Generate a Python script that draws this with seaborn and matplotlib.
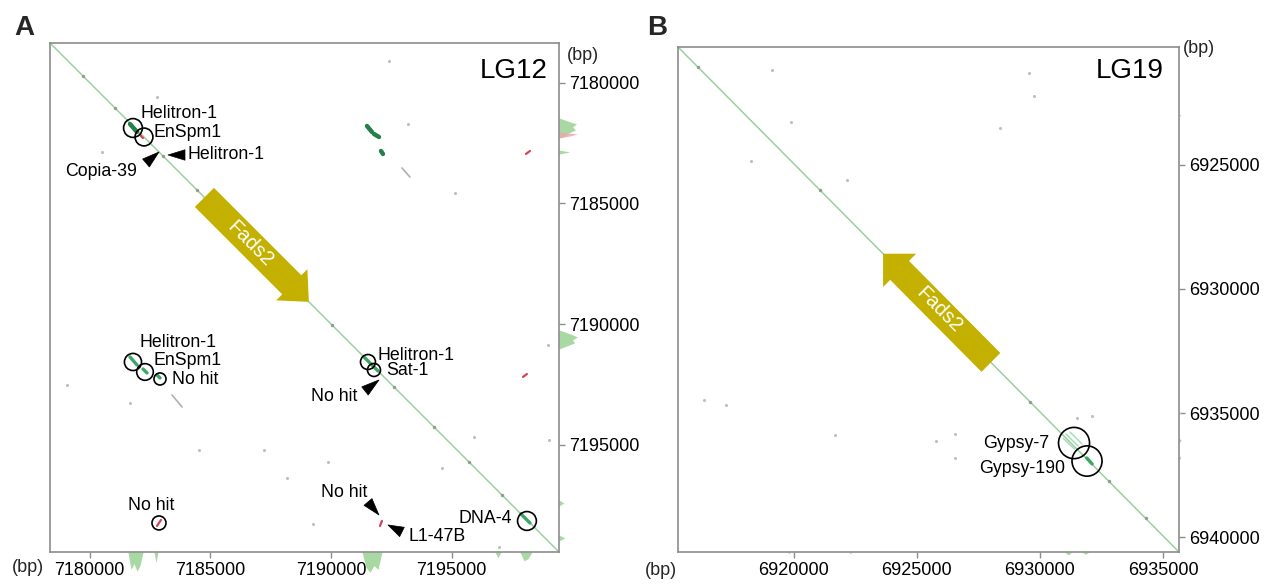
import matplotlib
matplotlib.use("Agg")
import matplotlib.pyplot as plt
import matplotlib.transforms as mtrans
from matplotlib.patches import Circle
import pandas as pd
import seaborn as sns

# ======================= DATA =======================
# ---------- Panel A : LG12 self dot plot (bp) ----------
lg12_lim = [7178350, 7199450]
lg12_ticks = [7180000, 7185000, 7190000, 7195000]
lg12_fads2 = [7184750, 7189080]            # Fads2, forward strand (start -> end)

lg12_circ_x = [7181790, 7182246, 7181790, 7182288, 7182910, 7182868, 7191531, 7191780, 7198122]
lg12_circ_y = [7181873, 7182246, 7191573, 7191987, 7192277, 7198246, 7191573, 7191904, 7198163]
lg12_circ_r = [390, 370, 355, 345, 250, 290, 310, 270, 390]

lg12_lab_text = ["Helitron-1", "EnSpm1", "Copia-39", "Helitron-1", "Helitron-1", "EnSpm1",
                 "No hit", "Helitron-1", "Sat-1", "No hit", "No hit", "No hit", "L1-47B", "DNA-4"]
lg12_lab_x = [7182122, 7182620, 7181956, 7184070, 7182040, 7182661,
              7183407, 7191946, 7192277, 7191075, 7182536, 7190537, 7193230, 7197500]
lg12_lab_y = [7181252, 7182080, 7183697, 7182992, 7190785, 7191530,
              7192318, 7191323, 7191946, 7193023, 7197540, 7197000, 7198826, 7198080]
lg12_lab_ha = ["left", "left", "right", "left", "left", "left",
               "left", "left", "left", "right", "center", "center", "left", "right"]

# black arrow-heads: tip and base (bp)
lg12_tip_x = [7182868, 7183241, 7191987, 7191987, 7192360]
lg12_tip_y = [7182868, 7182992, 7192318, 7197915, 7198329]
lg12_base_x = [7182329, 7183946, 7191407, 7191531, 7192940]
lg12_base_y = [7183324, 7182992, 7192774, 7197376, 7198619]

# hit segments: x0, y0, x1, y1, kind
lg12_seg_x0 = [7181666, 7182080, 7191490, 7191780, 7192070, 7192940, 7198080, 7181666, 7182205,
               7182785, 7183407, 7191365, 7197873, 7197956, 7192028, 7182785]
lg12_seg_y0 = [7181707, 7182163, 7181790, 7182122, 7182827, 7183531, 7182950, 7191365, 7191863,
               7192111, 7192940, 7191365, 7197873, 7192194, 7198370, 7198370]
lg12_seg_x1 = [7181956, 7182205, 7191697, 7191987, 7192153, 7193270, 7198246, 7181956, 7182371,
               7182910, 7183822, 7191946, 7198246, 7198122, 7192111, 7182951]
lg12_seg_y1 = [7182039, 7182288, 7182039, 7182246, 7182950, 7183904, 7182826, 7191697, 7192028,
               7192236, 7193437, 7191946, 7198246, 7192070, 7198163, 7198122]
lg12_seg_kind = ["dark", "red", "dark", "dark", "dark", "grey", "red", "mid", "mid",
                 "mid", "grey", "mid", "mid", "red", "red", "red"]

lg12_dot_x = [7192402, 7193189, 7182785, 7180505, 7179055, 7181666, 7184526, 7187220, 7188174,
              7189251, 7198992, 7199033, 7195925, 7189873, 7194598, 7196961, 7195137]
lg12_dot_y = [7179096, 7181707, 7180588, 7182868, 7192526, 7193272, 7195220, 7195220, 7196381,
              7198297, 7190868, 7194806, 7194681, 7195717, 7195966, 7199241, 7184568]
lg12_diag_dots = [7179700, 7181050, 7183050, 7184450, 7190050, 7192600, 7194250, 7195700, 7197100]

# marginal coverage profiles (relative)
lg12_right_pos = [7181459, 7181625, 7181708, 7181832, 7181956, 7182080, 7182205, 7182288,
                  7182785, 7182868, 7182950, 7190247, 7190413, 7190537, 7190661, 7190785,
                  7190910, 7191034, 7197293, 7197418, 7197543, 7198744, 7198868, 7198993]
lg12_right_val = [0, 0.6, 0.9, 0.7, 0.85, 0.5, 0.3, 0,
                  0, 0.55, 0, 0, 0.6, 0.95, 0.7, 0.8,
                  0.4, 0, 0, 0.25, 0, 0, 0.3, 0]
lg12_right_pink_pos = [7182040, 7182120, 7182200, 7182290]
lg12_right_pink_val = [0, 0.95, 0.6, 0]
lg12_bottom_pos = [7181583, 7181707, 7181832, 7181956, 7182081, 7182205, 7182661, 7182744,
                   7182827, 7191282, 7191448, 7191614, 7191780, 7191946, 7192111, 7196795,
                   7196920, 7197044, 7197832, 7197998, 7198163, 7198329]
lg12_bottom_val = [0, 0.9, 0.6, 1.0, 0.7, 0, 0, 0.55,
                   0, 0, 0.8, 1.05, 0.7, 0.9, 0, 0,
                   0.3, 0, 0, 0.45, 0.35, 0]

# ---------- Panel B : LG19 dot plot (bp) ----------
lg19_xlim = [6915300, 6935650]
lg19_ylim = [6920250, 6940600]
lg19_xticks = [6920000, 6925000, 6930000, 6935000]
lg19_yticks = [6925000, 6930000, 6935000, 6940000]
lg19_fads2_x = [6928010, 6923630]          # Fads2, reverse strand (start -> end)
lg19_fads2_y = [6932960, 6928580]

lg19_circ_x = [6931386, 6931914]
lg19_circ_y = [6936209, 6936934]
lg19_circ_r = [630, 610]
lg19_lab_text = ["Gypsy-7", "Gypsy-190"]
lg19_lab_x = [6930370, 6931020]
lg19_lab_y = [6936209, 6937216]

lg19_seg_x0 = [6931061, 6931223, 6930950, 6931900]
lg19_seg_y0 = [6935846, 6935765, 6936020, 6936810]
lg19_seg_x1 = [6931548, 6931710, 6931400, 6932120]
lg19_seg_y1 = [6936330, 6936249, 6936450, 6937050]
lg19_seg_kind = ["light", "light", "light", "mid"]

lg19_dot_x = [6919118, 6919890, 6918265, 6922165, 6929558, 6929761, 6928380, 6916356,
              6917250, 6921677, 6925780, 6926552, 6926552, 6931507, 6932117]
lg19_dot_y = [6921177, 6923273, 6924845, 6925610, 6921298, 6922225, 6923514, 6934476,
              6934677, 6935886, 6936128, 6935846, 6936813, 6935201, 6935121]
lg19_diag_dots = [6916100, 6921070, 6924000, 6929600, 6932800, 6934300]

lg19_bottom_pos = [6919750, 6919800, 6919850, 6922250, 6922300, 6922350,
                   6931000, 6931150, 6931300, 6931700, 6931850, 6932000]
lg19_bottom_val = [0, 0.1, 0, 0, 0.1, 0, 0, 0.15, 0, 0, 0.12, 0]
lg19_right_pos = [6922950, 6923000, 6923050, 6934950, 6935000, 6935050,
                  6936000, 6936100, 6936200, 6936700, 6936800, 6936900]
lg19_right_val = [0, 0.1, 0, 0, 0.12, 0, 0, 0.12, 0, 0, 0.1, 0]

# ======================= STYLE =======================
sns.set_theme(style="white")
plt.rcParams['font.family'] = ['Liberation Sans', 'DejaVu Sans']

SPINE = "#8c8c8c"
DIAG = "#9ccf9c"
ARROW = "#c3b000"
PROF_G = "#a9d9a2"
PROF_P = "#eaa6ae"
seg_color = {"dark": "#23804a", "mid": "#3fa565", "light": "#9edcb6",
             "red": "#d2445a", "grey": "#a9b4ac"}
seg_width = {"dark": 3.2, "mid": 2.4, "light": 1.0, "red": 1.6, "grey": 1.2}

fig = plt.figure(figsize=(12.7, 5.84), dpi=100)
axA = fig.add_axes([50 / 1270, 32 / 584, 509 / 1270, 509 / 584])
axB = fig.add_axes([678 / 1270, 32 / 584, 501 / 1270, 505 / 584])


def base_axes(ax, xlim, ylim, xticks, yticks):
    ax.set_xlim(xlim[0], xlim[1])
    ax.set_ylim(ylim[1], ylim[0])
    ax.set_xticks(xticks)
    ax.set_yticks(yticks)
    ax.set_xticklabels([str(t) for t in xticks])
    ax.set_yticklabels([str(t) for t in yticks])
    ax.yaxis.tick_right()
    ax.xaxis.tick_bottom()
    ax.tick_params(axis="both", direction="out", length=4, width=1, color=SPINE,
                   labelsize=13, pad=3, labelcolor="black")
    for s in ax.spines.values():
        s.set_color(SPINE)
        s.set_linewidth(1.2)
    ax.set_xlabel("")
    ax.set_ylabel("")


def draw_panel(ax, diag_x, diag_y, dots_x, dots_y, diag_dots, diag_offset,
               sx0, sy0, sx1, sy1, skind, circ_x, circ_y, circ_r):
    sns.lineplot(x=diag_x, y=diag_y, ax=ax, color=DIAG, lw=1.1, zorder=2)
    for x0, y0, x1, y1, k in zip(sx0, sy0, sx1, sy1, skind):
        ax.plot([x0, x1], [y0, y1], color=seg_color[k], lw=seg_width[k],
                solid_capstyle="round", zorder=3)
    sns.scatterplot(x=dots_x, y=dots_y, ax=ax, color="#b8c4bc", s=5,
                    linewidth=0, zorder=3, legend=False)
    sns.scatterplot(x=diag_dots, y=[d + diag_offset for d in diag_dots], ax=ax,
                    color="#8e9a92", s=6, linewidth=0, zorder=3, legend=False)
    for cx, cy, r in zip(circ_x, circ_y, circ_r):
        ax.add_patch(Circle((cx, cy), r, fill=False, ec="black", lw=1.2, zorder=5))


def gene_arrow(ax, xs, ys, width, head_w, head_l):
    dx = xs[1] - xs[0]
    dy = ys[1] - ys[0]
    ax.arrow(xs[0], ys[0], dx, dy, width=width, head_width=head_w, head_length=head_l,
             length_includes_head=True, fc=ARROW, ec=ARROW, lw=0, zorder=4)


def profiles(ax, rpos, rval, bpos, bval, color, scale):
    tr_r = mtrans.blended_transform_factory(ax.transAxes, ax.transData)
    tr_b = mtrans.blended_transform_factory(ax.transData, ax.transAxes)
    ax.fill_betweenx(rpos, 1.0, [1.0 + v * scale for v in rval], transform=tr_r,
                     color=color, lw=0, clip_on=False, zorder=1)
    ax.fill_between(bpos, 0.0, [-v * scale for v in bval], transform=tr_b,
                    color=color, lw=0, clip_on=False, zorder=1)


# ---------------- Panel A ----------------
draw_panel(axA, lg12_lim, lg12_lim, lg12_dot_x, lg12_dot_y, lg12_diag_dots, 0,
           lg12_seg_x0, lg12_seg_y0, lg12_seg_x1, lg12_seg_y1, lg12_seg_kind,
           lg12_circ_x, lg12_circ_y, lg12_circ_r)
gene_arrow(axA, lg12_fads2, lg12_fads2, 1120, 1830, 1000)
headA = 1000 / (2 ** 0.5)
midA = (lg12_fads2[0] + lg12_fads2[1] - headA) / 2 + 100
axA.text(midA, midA, "Fads2", color="white", fontsize=14.5, rotation=-45,
         rotation_mode="anchor", ha="center", va="center", zorder=6)
for t, x, y, ha in zip(lg12_lab_text, lg12_lab_x, lg12_lab_y, lg12_lab_ha):
    axA.text(x, y, t, fontsize=12.8, ha=ha, va="center", color="black", zorder=6)
for tx, ty, bx, by in zip(lg12_tip_x, lg12_tip_y, lg12_base_x, lg12_base_y):
    axA.annotate("", xy=(tx, ty), xytext=(bx, by),
                 arrowprops=dict(arrowstyle="wedge,tail_width=0.75,shrink_factor=0.5",
                                 fc="black", ec="black", lw=0.5, shrinkA=0, shrinkB=0,
                                 mutation_scale=10), zorder=6)
base_axes(axA, lg12_lim, lg12_lim, lg12_ticks, lg12_ticks)
profiles(axA, lg12_right_pos, lg12_right_val, lg12_bottom_pos, lg12_bottom_val, PROF_G, 0.038)
axA.fill_betweenx(lg12_right_pink_pos, 1.0, [1.0 + v * 0.038 for v in lg12_right_pink_val],
                  transform=mtrans.blended_transform_factory(axA.transAxes, axA.transData),
                  color=PROF_P, lw=0, clip_on=False, zorder=1, alpha=0.8)
axA.text(0.978, 0.931, "LG12", transform=axA.transAxes, fontsize=20, ha="right",
         va="baseline", color="black")
axA.text(-0.075, -0.03, "(bp)", transform=axA.transAxes, fontsize=13, ha="left", va="center")
axA.text(1.016, 0.976, "(bp)", transform=axA.transAxes, fontsize=13, ha="left", va="center")
axA.set_xlim(lg12_lim[0], lg12_lim[1])
axA.set_ylim(lg12_lim[1], lg12_lim[0])

# ---------------- Panel B ----------------
lg19_offset = lg19_ylim[0] - lg19_xlim[0]
draw_panel(axB, lg19_xlim, lg19_ylim, lg19_dot_x, lg19_dot_y, lg19_diag_dots, lg19_offset,
           lg19_seg_x0, lg19_seg_y0, lg19_seg_x1, lg19_seg_y1, lg19_seg_kind,
           lg19_circ_x, lg19_circ_y, lg19_circ_r)
gene_arrow(axB, lg19_fads2_x, lg19_fads2_y, 1080, 1900, 950)
headB = 950 / (2 ** 0.5)
midBx = (lg19_fads2_x[0] + lg19_fads2_x[1] + headB) / 2 - 250
midBy = midBx + lg19_offset
axB.text(midBx, midBy, "Fads2", color="white", fontsize=14.5, rotation=-45,
         rotation_mode="anchor", ha="center", va="center", zorder=6)
for t, x, y in zip(lg19_lab_text, lg19_lab_x, lg19_lab_y):
    axB.text(x, y, t, fontsize=12.8, ha="right", va="center", color="black", zorder=6)
base_axes(axB, lg19_xlim, lg19_ylim, lg19_xticks, lg19_yticks)
profiles(axB, lg19_right_pos, lg19_right_val, lg19_bottom_pos, lg19_bottom_val, PROF_G, 0.038)
axB.text(0.970, 0.939, "LG19", transform=axB.transAxes, fontsize=20, ha="right",
         va="baseline", color="black")
axB.text(-0.066, -0.036, "(bp)", transform=axB.transAxes, fontsize=13, ha="left", va="center")
axB.text(1.008, 0.998, "(bp)", transform=axB.transAxes, fontsize=13, ha="left", va="center")
axB.set_xlim(lg19_xlim[0], lg19_xlim[1])
axB.set_ylim(lg19_ylim[1], lg19_ylim[0])

# panel letters
fig.text(14 / 1270, 1 - 35 / 584, "A", fontsize=20, fontweight="bold", ha="left", va="baseline")
fig.text(647 / 1270, 1 - 35 / 584, "B", fontsize=20, fontweight="bold", ha="left", va="baseline")

fig.savefig("out.png", dpi=100)
